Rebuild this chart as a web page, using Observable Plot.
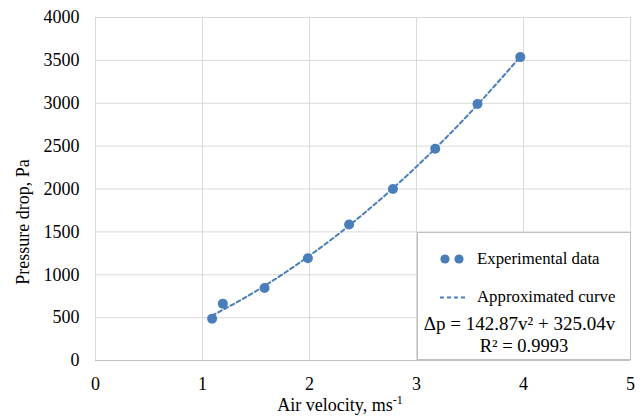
<!DOCTYPE html>
<html>
<head>
<meta charset="utf-8">
<script src="https://cdn.jsdelivr.net/npm/d3@7"></script>
<script src="https://cdn.jsdelivr.net/npm/@observablehq/plot@0.6"></script>
<style>
  html, body { margin: 0; padding: 0; background: #fff; }
  #chart { width: 641px; height: 417px; }
  #chart svg, #chart svg text { font-family: "Liberation Serif", "DejaVu Serif", serif !important; }
</style>
</head>
<body>
<div id="chart"></div>
<script>
const velocity = [1.09, 1.19, 1.58, 1.985, 2.37, 2.78, 3.175, 3.57, 3.97];
const pressure = [488, 663, 845, 1193, 1586, 2000, 2469, 2992, 3538];

// Approximated (dashed) curve
const curveV = [1.09, 1.5, 2.0, 2.5, 3.0, 3.5, 3.97];
const curveP = [524, 809, 1222, 1706, 2261, 2888, 3542];

const xTicks = [0, 1, 2, 3, 4, 5];
const yTicks = [0, 500, 1000, 1500, 2000, 2500, 3000, 3500, 4000];

const xLabel = "Air velocity, ms";
const xLabelSup = "-1";
const yLabel = "Pressure drop, Pa";
const legendLabels = ["Experimental data", "Approximated curve"];
const equationText = "Δp = 142.87v² + 325.04v";
const r2Text = "R² = 0.9993";

const points = velocity.map((v, i) => ({v, p: pressure[i]}));
const curve = curveV.map((v, i) => ({v, p: curveP[i]}));

const blue = "#4a7ebb";
const font = "Liberation Serif, DejaVu Serif, serif";

const chart = Plot.plot({
  width: 641,
  height: 417,
  marginLeft: 95,
  marginRight: 11,
  marginTop: 17,
  marginBottom: 57,
  style: {fontFamily: font, fontSize: "18px", color: "#000", background: "#fff"},
  x: {domain: [0, 5]},
  y: {domain: [0, 4000]},
  marks: [
    Plot.gridX(xTicks, {stroke: "#d9d9d9", strokeOpacity: 1, strokeWidth: 1}),
    Plot.gridY(yTicks, {stroke: "#d9d9d9", strokeOpacity: 1, strokeWidth: 1}),
    Plot.ruleY([0], {stroke: "#bfbfbf", strokeWidth: 1}),
    Plot.ruleX([0], {stroke: "#d9d9d9", strokeWidth: 1}),
    Plot.axisX(xTicks, {tickSize: 0, tickPadding: 17, label: null, fontSize: 18}),
    Plot.axisY(yTicks, {tickSize: 0, tickPadding: 16, label: null, fontSize: 18, tickFormat: d => String(d)}),
    Plot.line(curve, {x: "v", y: "p", curve: "natural", stroke: blue, strokeWidth: 2, strokeDasharray: "4,3"}),
    Plot.dot(points, {x: "v", y: "p", r: 5, fill: blue, stroke: "none"})
  ]
});

document.getElementById("chart").appendChild(chart);

const svg = d3.select(chart);

function txt(sel, x, y, anchor, s, size) {
  return sel.append("text")
    .attr("x", x).attr("y", y)
    .attr("text-anchor", anchor)
    .attr("font-family", font)
    .attr("font-size", size)
    .attr("fill", "#000")
    .text(s);
}

// Axis titles
const xt = svg.append("text")
  .attr("x", 340).attr("y", 411)
  .attr("text-anchor", "middle")
  .attr("font-family", font).attr("font-size", 18).attr("fill", "#000");
xt.append("tspan").text(xLabel);
xt.append("tspan").attr("dy", -7).attr("font-size", 12).text(xLabelSup);

svg.append("text")
  .attr("transform", "translate(29,222) rotate(-90)")
  .attr("text-anchor", "middle")
  .attr("font-family", font).attr("font-size", 18).attr("fill", "#000")
  .text(yLabel);

// Legend box
const lg = svg.append("g");
lg.append("rect")
  .attr("x", 417.5).attr("y", 232.5).attr("width", 213).attr("height", 127)
  .attr("fill", "#fff").attr("stroke", "#bfbfbf").attr("stroke-width", 1);
[445, 459].forEach(cx => lg.append("circle").attr("cx", cx).attr("cy", 259).attr("r", 4.6).attr("fill", blue));
txt(lg, 477, 264, "start", legendLabels[0], 16.8);
lg.append("line").attr("x1", 440).attr("x2", 466).attr("y1", 297.5).attr("y2", 297.5)
  .attr("stroke", blue).attr("stroke-width", 2).attr("stroke-dasharray", "4,3");
txt(lg, 477, 302, "start", legendLabels[1], 16.8);
txt(lg, 519.5, 330, "middle", equationText, 19);
txt(lg, 524, 352, "middle", r2Text, 18.5);
</script>
</body>
</html>
